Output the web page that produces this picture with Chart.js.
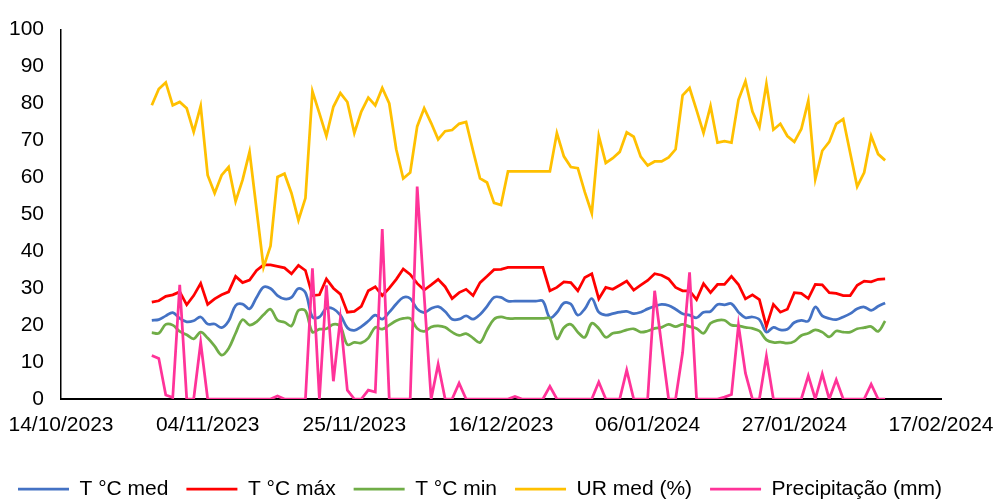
<!DOCTYPE html>
<html>
<head>
<meta charset="utf-8">
<script src="https://cdn.jsdelivr.net/npm/chart.js@4/dist/chart.umd.min.js"></script>
<style>
  html, body { margin: 0; padding: 0; background: #ffffff; }
  #wrap { width: 995px; height: 499px; }
</style>
</head>
<body>
<div id="wrap"><canvas id="chart" width="995" height="499"></canvas></div>
<script>
// Daily station readings, 27/10/2023 to 09/02/2024
const firstReading = new Date(2023, 9, 27);
const axisStart = new Date(2023, 9, 14);
const tickLabels = ['14/10/2023', '04/11/2023', '25/11/2023', '16/12/2023', '06/01/2024', '27/01/2024', '17/02/2024'];
const seriesNames = ['T °C med', 'T °C máx', 'T °C min', 'UR med (%)', 'Precipitação (mm)'];

const tMed = [
  21.3, 21.5, 22.5, 23.4, 21.8, 20.9, 21.2, 22.2, 20.3, 20.3,
  19.3, 21.1, 25.3, 25.7, 24.4, 27.5, 30.3, 29.9, 28.0, 27.1,
  27.5, 29.9, 28.8, 22.2, 22.2, 24.6, 24.4, 22.7, 19.3, 18.6,
  19.6, 21.1, 22.7, 21.6, 23.5, 25.7, 27.5, 27.2, 24.4, 23.4,
  24.5, 25.0, 23.7, 21.6, 21.6, 22.5, 21.6, 22.9, 25.1, 27.5,
  27.5, 26.5, 26.5, 26.5, 26.5, 26.5, 26.5, 22.0, 23.4, 26.0,
  25.7, 22.7, 24.4, 27.2, 23.5, 22.7, 23.1, 23.5, 23.7, 23.1,
  23.5, 24.4, 25.1, 25.6, 25.3, 24.3, 23.1, 22.7, 22.0, 23.5,
  23.7, 25.6, 25.5, 25.8, 23.5, 22.0, 22.2, 21.5, 18.1, 19.4,
  18.7, 18.9, 20.7, 21.3, 21.1, 24.9, 22.5, 21.8, 21.5, 22.2,
  23.1, 24.4, 24.9, 24.0, 25.1, 26.0
];
const tMax = [
  26.2, 26.6, 27.8, 28.2, 29.0, 25.5, 28.0, 31.3, 25.6, 27.1,
  28.2, 29.0, 33.2, 31.5, 32.2, 34.8, 36.3, 36.3, 35.9, 35.5,
  33.9, 36.2, 34.8, 28.0, 28.2, 32.5, 30.0, 28.4, 23.5, 23.7,
  25.1, 29.3, 30.4, 28.0, 30.0, 32.4, 35.2, 33.7, 31.3, 29.5,
  30.9, 32.4, 30.4, 27.2, 28.8, 29.7, 28.0, 31.5, 33.2, 35.0,
  35.1, 35.6, 35.6, 35.6, 35.6, 35.6, 35.6, 29.3, 30.2, 31.7,
  31.5, 29.3, 32.9, 33.9, 27.1, 30.2, 29.7, 30.8, 31.9, 29.5,
  30.8, 32.1, 33.9, 33.5, 32.5, 30.2, 29.3, 29.3, 26.9, 31.2,
  28.8, 31.0, 31.0, 33.2, 31.0, 27.1, 28.2, 26.9, 19.6, 25.6,
  23.5, 24.3, 28.8, 28.6, 27.2, 31.0, 30.9, 28.8, 28.6, 28.0,
  28.0, 30.8, 31.9, 31.7, 32.4, 32.5
];
const tMin = [
  18.0, 17.8, 20.2, 20.0, 18.3, 17.4, 16.3, 18.1, 16.5, 14.3,
  11.9, 13.7, 17.8, 21.5, 20.0, 20.9, 22.8, 24.3, 21.3, 20.8,
  19.8, 24.0, 23.9, 18.1, 18.9, 19.0, 20.2, 19.6, 14.7, 15.3,
  15.2, 16.5, 19.4, 18.9, 20.0, 21.2, 21.8, 21.8, 19.1, 18.3,
  19.5, 19.8, 19.4, 18.1, 17.2, 17.7, 16.5, 15.3, 18.7, 21.6,
  22.2, 21.8, 21.8, 21.8, 21.8, 21.8, 21.8, 21.8, 16.3, 19.3,
  20.2, 18.1, 16.7, 20.5, 19.1, 16.7, 17.8, 18.1, 18.7, 19.0,
  18.1, 18.4, 19.1, 19.4, 20.2, 19.6, 20.2, 19.6, 19.1, 17.8,
  20.5, 21.3, 21.3, 20.0, 19.8, 19.4, 19.1, 18.4, 16.0, 15.3,
  15.4, 15.1, 15.6, 17.2, 17.8, 18.7, 18.1, 16.8, 18.4, 18.1,
  18.1, 19.0, 19.3, 19.6, 18.3, 21.1
];
const urMed = [
  79.5, 83.9, 85.7, 79.5, 80.4, 78.7, 72.3, 79.3, 60.6, 55.7,
  60.6, 62.8, 53.5, 59.3, 66.9, 51.3, 35.7, 41.4, 60.1, 61.0,
  55.7, 48.4, 54.4, 83.3, 77.3, 71.2, 79.1, 82.8, 80.4, 72.0,
  77.8, 81.6, 79.5, 84.2, 80.0, 67.6, 59.7, 61.3, 73.8, 78.7,
  74.7, 70.3, 72.5, 72.8, 74.5, 75.0, 67.2, 59.7, 58.6, 53.1,
  52.5, 61.6, 61.6, 61.6, 61.6, 61.6, 61.6, 61.6, 72.0, 65.7,
  62.8, 62.5, 56.0, 50.3, 71.2, 63.9, 65.2, 66.9, 72.2, 71.0,
  65.6, 63.2, 64.3, 64.3, 65.4, 67.6, 82.2, 84.2, 78.2, 72.0,
  79.3, 69.4, 69.8, 69.4, 81.0, 86.0, 77.8, 73.6, 85.3, 72.9,
  74.5, 71.2, 69.6, 73.1, 80.7, 59.5, 67.2, 69.6, 74.5, 75.8,
  66.6, 57.5, 61.3, 71.2, 66.3, 64.6
];
const precip = [
  11.8, 11.0, 1.1, 0.4, 30.9, 0, 0, 15.3, 0, 0,
  0, 0, 0, 0, 0, 0, 0, 0, 0.8, 0,
  0, 0, 0, 35.4, 0, 30.8, 4.8, 21.8, 2.4, 0,
  0, 2.4, 1.9, 46.0, 0, 0, 0, 0, 57.5, 28.0,
  0, 9.4, 0, 0, 4.3, 0, 0, 0, 0, 0,
  0, 0, 0.7, 0, 0, 0, 0, 3.4, 0, 0,
  0, 0, 0, 0, 4.6, 0, 0, 0, 7.8, 0,
  0, 0, 29.3, 14.5, 0, 0, 12.5, 34.3, 0, 0,
  0, 0, 0.5, 1.2, 20.0, 7.0, 0, 0, 11.6, 0,
  0, 0, 0, 0, 6.3, 0, 6.8, 0, 5.2, 0,
  0, 0, 0, 4.0, 0, 0
];

// Day offsets from the first axis date, one per reading
const dayMs = 86400000;
const readingDays = urMed.map((_, i) => {
  const d = new Date(firstReading);
  d.setDate(d.getDate() + i);
  return Math.round((d - axisStart) / dayMs);
});
const pairs = values => values.map((v, i) => ({ x: readingDays[i], y: v }));

const FONT = "'Liberation Sans', Arial, sans-serif";
const colors = ['#4472C4', '#FF0000', '#70AD47', '#FFC000', '#FF3399'];
const allValues = [tMed, tMax, tMin, urMed, precip];
const tensions = [0.35, 0, 0.35, 0, 0];

const datasets = allValues.map((vals, i) => ({
  label: seriesNames[i],
  data: pairs(vals),
  borderColor: colors[i],
  backgroundColor: colors[i],
  borderWidth: 2.75,
  pointRadius: 0,
  pointHoverRadius: 0,
  tension: tensions[i],
  fill: false,
  order: 5 - i
}));

new Chart(document.getElementById('chart'), {
  type: 'line',
  data: { datasets },
  options: {
    responsive: false,
    animation: false,
    events: [],
    layout: { padding: { top: 21, right: 0, bottom: -10.5, left: 0 } },
    scales: {
      x: {
        type: 'linear',
        min: 0,
        max: 126,
        afterFit: s => {
          s.height = 61.5;
          s.paddingLeft = 0;
          s.paddingRight = 54;
        },
        grid: { display: false, drawTicks: false },
        border: { display: true, color: '#000000', width: 2 },
        ticks: {
          stepSize: 21,
          autoSkip: false,
          maxRotation: 0,
          padding: 14,
          color: '#000000',
          font: { family: FONT, size: 21 },
          callback: v => tickLabels[Math.round(v / 21)]
        }
      },
      y: {
        min: 0,
        max: 100,
        afterFit: s => { s.width = 61; },
        grid: { display: false, drawTicks: false },
        border: { display: true, color: '#000000', width: 1.5 },
        ticks: {
          stepSize: 10,
          padding: 17,
          color: '#000000',
          font: { family: FONT, size: 21 }
        }
      }
    },
    plugins: {
      legend: {
        position: 'bottom',
        align: 'start',
        labels: {
          usePointStyle: true,
          pointStyle: 'line',
          pointStyleWidth: 51,
          padding: 18,
          color: '#000000',
          font: { family: FONT, size: 21 },
          sort: (a, b) => a.datasetIndex - b.datasetIndex
        }
      },
      tooltip: { enabled: false }
    }
  }
});
</script>
</body>
</html>
